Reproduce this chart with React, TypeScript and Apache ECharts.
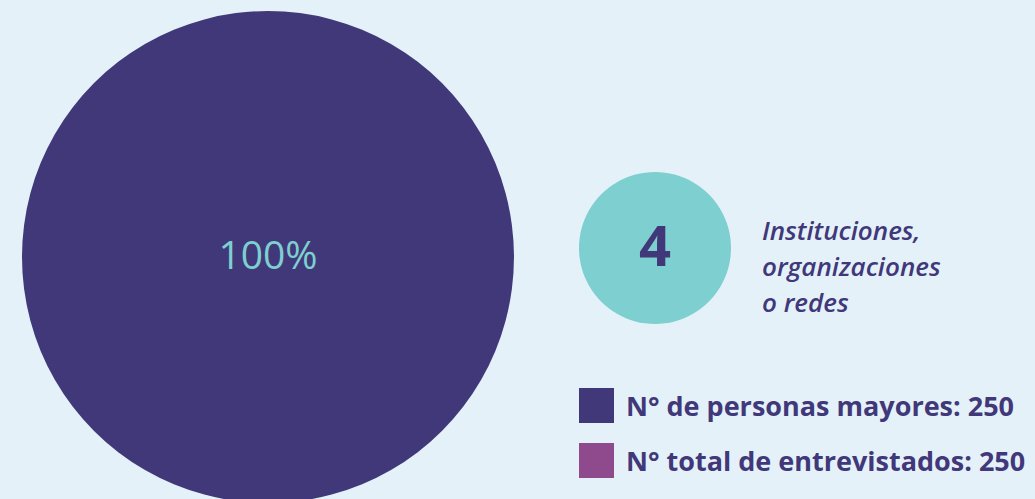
import React, { useEffect, useRef } from "react";
import * as echarts from "echarts";

const legendNames = ["N° de personas mayores", "N° total de entrevistados"];
const legendValues = [250, 250];
const institutionsLabel = "Instituciones,\norganizaciones\no redes";
const institutionsValue = 4;

const DARK = "#41387a";
const TEAL = "#7ecfcf";
const MAGENTA = "#8e4a8d";
const BG = "#e4f1f9";

export default function App() {
  const ref = useRef<HTMLDivElement>(null);
  useEffect(() => {
    if (!ref.current) return;
    const chart = echarts.init(ref.current, undefined, { renderer: "svg" });
    const personas = legendValues[0];
    const total = legendValues[1];
    const valueMap: Record<string, number> = {
      [legendNames[0]]: personas,
      [legendNames[1]]: total,
    };
    chart.setOption({
      animation: false,
      backgroundColor: BG,
      legend: {
        data: legendNames,
        orient: "vertical",
        left: 574,
        top: 383,
        itemWidth: 35,
        itemHeight: 35,
        itemGap: 20,
        icon: "rect",
        selectedMode: false,
        formatter: (name: string) => `${name}: ${valueMap[name]}`,
        textStyle: {
          fontFamily: "Open Sans",
          fontWeight: "bold",
          fontSize: 27,
          color: DARK,
          padding: [0, 0, 0, 7],
        },
      },
      series: [
        {
          type: "pie",
          center: [268, 257],
          radius: [0, 246],
          silent: true,
          stillShowZeroSum: true,
          labelLine: { show: false },
          itemStyle: { borderWidth: 0 },
          data: [
            {
              name: legendNames[0],
              value: personas,
              itemStyle: { color: DARK },
              label: {
                show: true,
                position: "center",
                formatter: () => `${Math.round((personas / total) * 100)}%`,
                fontFamily: "Open Sans",
                fontSize: 39,
                fontWeight: 500,
                color: TEAL,
                offset: [0, -4],
              },
            },
            {
              name: legendNames[1],
              value: total - personas,
              itemStyle: { color: MAGENTA },
              label: { show: false },
            },
          ],
        },
        {
          type: "pie",
          center: [655, 248],
          radius: [0, 76],
          silent: true,
          labelLine: { show: false },
          itemStyle: { borderWidth: 0, color: TEAL },
          data: [
            {
              name: "Instituciones",
              value: institutionsValue,
              label: {
                show: true,
                position: "center",
                formatter: "{c}",
                fontFamily: "Open Sans",
                fontSize: 56,
                fontWeight: "bold",
                color: DARK,
                offset: [0, -4],
              },
            },
          ],
        },
      ],
      graphic: [
        {
          type: "text",
          left: 762,
          top: 212,
          style: {
            text: institutionsLabel,
            fontFamily: "Open Sans",
            fontStyle: "italic",
            fontWeight: 600,
            fontSize: 26,
            lineHeight: 36,
            fill: DARK,
          },
        },
      ],
    });
    return () => chart.dispose();
  }, []);
  return (
    <div
      ref={ref}
      style={{ position: "fixed", left: 0, top: 0, width: 1035, height: 499 }}
    />
  );
}
